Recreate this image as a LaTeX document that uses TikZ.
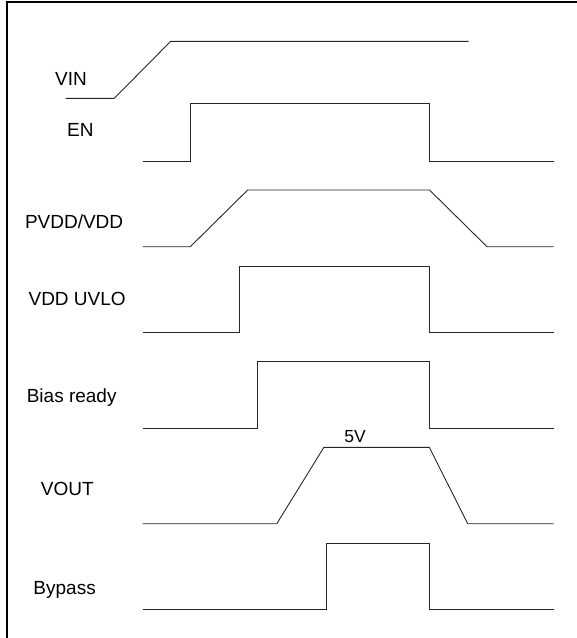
\documentclass[tikz,border=0pt]{standalone}
\usepackage{fontspec}
\setmainfont{Liberation Sans}
\usetikzlibrary{positioning}

\begin{document}
\begin{tikzpicture}[x=1pt,y=-1pt,
  wave/.style={line width=0.9pt, color=black!85},
  sig/.style={anchor=base west, inner sep=0pt, font=\fontsize{19}{22}\selectfont},
  level/.style={anchor=base, inner sep=0pt, font=\fontsize{17.5}{20}\selectfont}]
\useasboundingbox (0,0) rectangle (577,638);

% frame
\draw[line width=2pt] (6.5,638) -- (6.5,2.3) -- (577,2.3);

% labels
\node[sig] (vin)  at (55,85)    {VIN};
\node[sig] (en)   at (67,136.7) {EN};
\node[sig] (pvdd) at (24.8,228.3) {PVDD/VDD};
\node[sig] (uvlo) at (28.4,305.3) {VDD UVLO};
\node[sig] (bias) at (26.6,402.3) {Bias ready};
\node[sig] (vout) at (40.7,495.7) {VOUT};
\node[sig] (byp)  at (33.3,594.7) {Bypass};
\node[level] (five) at (355,442.3) {5V};

% VIN
\draw[wave] (65.7,98.3) -- (114.3,98.3) -- (170.7,41.3) -- (468.7,41.3);
% EN
\draw[wave] (142.7,161) -- (190.7,161) -- (190.7,103.7) -- (429.3,103.7) -- (429.3,161) -- (553.7,161);
% PVDD/VDD
\draw[wave] (142.7,246.7) -- (190.3,246.7) -- (247.7,190) -- (429.5,190) -- (487,246.7) -- (553.7,246.7);
% VDD UVLO
\draw[wave] (142.7,332.7) -- (239.2,332.7) -- (239.2,266) -- (429.5,266) -- (429.5,332.7) -- (553.7,332.7);
% Bias ready
\draw[wave] (142.7,428.3) -- (257.6,428.3) -- (257.6,361.3) -- (429.5,361.3) -- (429.5,428.3) -- (553.7,428.3);
% VOUT
\draw[wave] (142.7,523.7) -- (276.8,523.7) -- (323.9,447.3) -- (429.3,447.3) -- (467.7,523.7) -- (553.7,523.7);
% Bypass
\draw[wave] (142.7,609.7) -- (326.8,609.7) -- (326.8,543) -- (429.3,543) -- (429.3,609.7) -- (553.7,609.7);

\end{tikzpicture}
\end{document}
